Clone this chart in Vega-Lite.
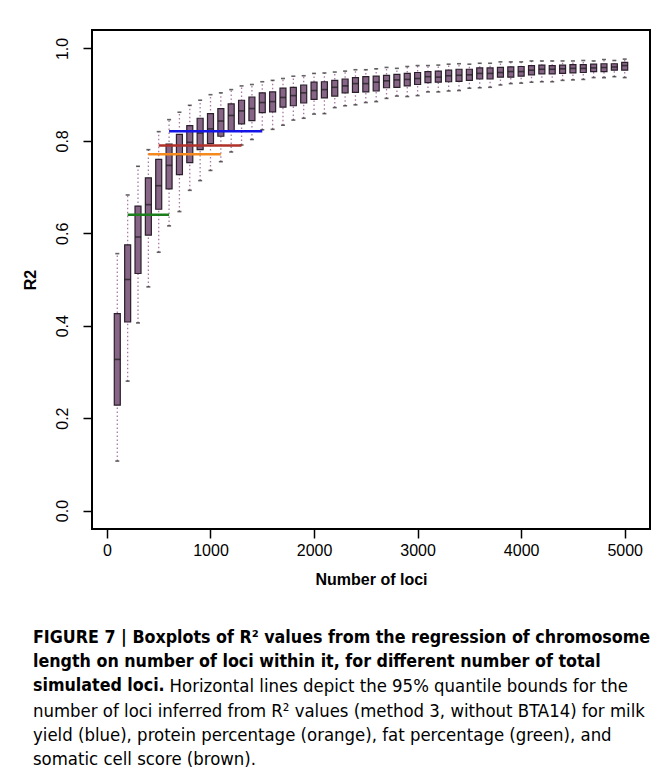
{
  "$schema": "https://vega.github.io/schema/vega-lite/v6.json",
  "autosize": {"type": "none"},
  "width": 558,
  "height": 499,
  "padding": {"left": 92, "top": 30, "right": 20, "bottom": 252},
  "background": "white",
  "title": {
    "text": ["FIGURE 7 | Boxplots of R² values from the regression of chromosome", "length on number of loci within it, for different number of total", "simulated loci."],
    "subtitle": ["\u200b\u00a0\u00a0\u00a0\u00a0\u00a0\u00a0\u00a0\u00a0\u00a0\u00a0\u00a0\u00a0\u00a0\u00a0\u00a0\u00a0\u00a0\u00a0\u00a0\u00a0\u00a0\u00a0\u00a0\u00a0\u00a0\u00a0Horizontal lines depict the 95% quantile bounds for the", "number of loci inferred from R² values (method 3, without BTA14) for milk", "yield (blue), protein percentage (orange), fat percentage (green), and", "somatic cell score (brown)."],
    "orient": "bottom",
    "anchor": "start",
    "frame": "group",
    "dx": -59,
    "offset": 42,
    "font": "DejaVu Sans Condensed, Liberation Sans Narrow, Liberation Sans",
    "fontSize": 17.7,
    "fontWeight": "bold",
    "color": "black",
    "lineHeight": 24.2,
    "subtitleFont": "DejaVu Sans Condensed, Liberation Sans Narrow, Liberation Sans",
    "subtitleFontSize": 18.4,
    "subtitleFontWeight": "normal",
    "subtitleColor": "black",
    "subtitleLineHeight": 24.2,
    "subtitlePadding": -17.7
  },
  "datasets": {
    "boxes": [
      {"n": 100, "lo": 0.107, "q1": 0.228, "med": 0.327, "q3": 0.426, "hi": 0.556},
      {"n": 200, "lo": 0.280, "q1": 0.408, "med": 0.500, "q3": 0.575, "hi": 0.683},
      {"n": 300, "lo": 0.406, "q1": 0.513, "med": 0.592, "q3": 0.659, "hi": 0.745},
      {"n": 400, "lo": 0.484, "q1": 0.596, "med": 0.662, "q3": 0.720, "hi": 0.781},
      {"n": 500, "lo": 0.559, "q1": 0.652, "med": 0.703, "q3": 0.760, "hi": 0.820},
      {"n": 600, "lo": 0.616, "q1": 0.696, "med": 0.747, "q3": 0.793, "hi": 0.846},
      {"n": 700, "lo": 0.647, "q1": 0.727, "med": 0.769, "q3": 0.814, "hi": 0.862},
      {"n": 800, "lo": 0.693, "q1": 0.753, "med": 0.797, "q3": 0.833, "hi": 0.877},
      {"n": 900, "lo": 0.714, "q1": 0.781, "med": 0.817, "q3": 0.849, "hi": 0.888},
      {"n": 1000, "lo": 0.736, "q1": 0.794, "med": 0.826, "q3": 0.859, "hi": 0.900},
      {"n": 1100, "lo": 0.755, "q1": 0.810, "med": 0.843, "q3": 0.870, "hi": 0.904},
      {"n": 1200, "lo": 0.776, "q1": 0.822, "med": 0.855, "q3": 0.880, "hi": 0.911},
      {"n": 1300, "lo": 0.791, "q1": 0.837, "med": 0.865, "q3": 0.888, "hi": 0.919},
      {"n": 1400, "lo": 0.803, "q1": 0.844, "med": 0.870, "q3": 0.895, "hi": 0.922},
      {"n": 1500, "lo": 0.824, "q1": 0.861, "med": 0.883, "q3": 0.904, "hi": 0.928},
      {"n": 1600, "lo": 0.825, "q1": 0.863, "med": 0.885, "q3": 0.906, "hi": 0.931},
      {"n": 1700, "lo": 0.834, "q1": 0.873, "med": 0.894, "q3": 0.914, "hi": 0.935},
      {"n": 1800, "lo": 0.845, "q1": 0.876, "med": 0.898, "q3": 0.916, "hi": 0.940},
      {"n": 1900, "lo": 0.849, "q1": 0.882, "med": 0.904, "q3": 0.921, "hi": 0.941},
      {"n": 2000, "lo": 0.858, "q1": 0.890, "med": 0.909, "q3": 0.927, "hi": 0.946},
      {"n": 2100, "lo": 0.859, "q1": 0.893, "med": 0.911, "q3": 0.928, "hi": 0.947},
      {"n": 2200, "lo": 0.872, "q1": 0.897, "med": 0.916, "q3": 0.931, "hi": 0.949},
      {"n": 2300, "lo": 0.876, "q1": 0.904, "med": 0.919, "q3": 0.934, "hi": 0.951},
      {"n": 2400, "lo": 0.878, "q1": 0.905, "med": 0.924, "q3": 0.937, "hi": 0.954},
      {"n": 2500, "lo": 0.883, "q1": 0.906, "med": 0.924, "q3": 0.939, "hi": 0.954},
      {"n": 2600, "lo": 0.885, "q1": 0.908, "med": 0.927, "q3": 0.940, "hi": 0.956},
      {"n": 2700, "lo": 0.892, "q1": 0.915, "med": 0.930, "q3": 0.942, "hi": 0.959},
      {"n": 2800, "lo": 0.897, "q1": 0.916, "med": 0.932, "q3": 0.944, "hi": 0.957},
      {"n": 2900, "lo": 0.896, "q1": 0.919, "med": 0.933, "q3": 0.946, "hi": 0.961},
      {"n": 3000, "lo": 0.898, "q1": 0.922, "med": 0.935, "q3": 0.948, "hi": 0.963},
      {"n": 3100, "lo": 0.906, "q1": 0.926, "med": 0.939, "q3": 0.950, "hi": 0.963},
      {"n": 3200, "lo": 0.906, "q1": 0.927, "med": 0.938, "q3": 0.951, "hi": 0.964},
      {"n": 3300, "lo": 0.908, "q1": 0.928, "med": 0.941, "q3": 0.953, "hi": 0.966},
      {"n": 3400, "lo": 0.909, "q1": 0.929, "med": 0.942, "q3": 0.955, "hi": 0.967},
      {"n": 3500, "lo": 0.914, "q1": 0.931, "med": 0.943, "q3": 0.955, "hi": 0.966},
      {"n": 3600, "lo": 0.915, "q1": 0.934, "med": 0.946, "q3": 0.958, "hi": 0.968},
      {"n": 3700, "lo": 0.916, "q1": 0.934, "med": 0.946, "q3": 0.958, "hi": 0.968},
      {"n": 3800, "lo": 0.921, "q1": 0.938, "med": 0.948, "q3": 0.959, "hi": 0.971},
      {"n": 3900, "lo": 0.924, "q1": 0.938, "med": 0.950, "q3": 0.960, "hi": 0.971},
      {"n": 4000, "lo": 0.925, "q1": 0.940, "med": 0.950, "q3": 0.961, "hi": 0.971},
      {"n": 4100, "lo": 0.927, "q1": 0.943, "med": 0.953, "q3": 0.963, "hi": 0.973},
      {"n": 4200, "lo": 0.928, "q1": 0.945, "med": 0.955, "q3": 0.964, "hi": 0.973},
      {"n": 4300, "lo": 0.928, "q1": 0.945, "med": 0.955, "q3": 0.963, "hi": 0.973},
      {"n": 4400, "lo": 0.931, "q1": 0.946, "med": 0.956, "q3": 0.964, "hi": 0.973},
      {"n": 4500, "lo": 0.932, "q1": 0.947, "med": 0.957, "q3": 0.965, "hi": 0.973},
      {"n": 4600, "lo": 0.933, "q1": 0.948, "med": 0.957, "q3": 0.965, "hi": 0.974},
      {"n": 4700, "lo": 0.937, "q1": 0.950, "med": 0.958, "q3": 0.966, "hi": 0.973},
      {"n": 4800, "lo": 0.937, "q1": 0.950, "med": 0.959, "q3": 0.967, "hi": 0.976},
      {"n": 4900, "lo": 0.939, "q1": 0.953, "med": 0.960, "q3": 0.967, "hi": 0.974},
      {"n": 5000, "lo": 0.937, "q1": 0.953, "med": 0.963, "q3": 0.970, "hi": 0.977}
    ],
    "bounds": [
      {"trait": "milk yield", "from": 600, "to": 1500, "r2": 0.821},
      {"trait": "protein percentage", "from": 400, "to": 1100, "r2": 0.771},
      {"trait": "fat percentage", "from": 200, "to": 600, "r2": 0.640},
      {"trait": "somatic cell score", "from": 500, "to": 1300, "r2": 0.790}
    ]
  },
  "layer": [
    {
      "data": {"name": "boxes"},
      "mark": {"type": "rule", "color": "#a87aa4", "strokeWidth": 1.3, "strokeDash": [1.5, 2.5]},
      "encoding": {
        "x": {"field": "n", "type": "quantitative", "scale": {"domain": [-96, 5196], "nice": false, "zero": false},
          "axis": {"values": [0, 1000, 2000, 3000, 4000, 5000], "format": "d", "title": "Number of loci"}},
        "y": {"field": "lo", "type": "quantitative", "scale": {"domain": [-0.04, 1.04], "nice": false, "zero": false},
          "axis": {"values": [0, 0.2, 0.4, 0.6, 0.8, 1.0], "format": ".1f", "title": "R2"}},
        "y2": {"field": "hi"}
      }
    },
    {
      "data": {"name": "boxes"},
      "mark": {"type": "tick", "orient": "horizontal", "color": "#222222", "size": 4, "thickness": 1.6},
      "encoding": {
        "x": {"field": "n", "type": "quantitative"},
        "y": {"field": "lo", "type": "quantitative"}
      }
    },
    {
      "data": {"name": "boxes"},
      "mark": {"type": "tick", "orient": "horizontal", "color": "#222222", "size": 4, "thickness": 1.6},
      "encoding": {
        "x": {"field": "n", "type": "quantitative"},
        "y": {"field": "hi", "type": "quantitative"}
      }
    },
    {
      "data": {"name": "boxes"},
      "mark": {"type": "bar", "orient": "vertical", "size": 6, "fill": "#866586", "stroke": "#2b1f2b", "strokeWidth": 1.2},
      "encoding": {
        "x": {"field": "n", "type": "quantitative"},
        "y": {"field": "q1", "type": "quantitative"},
        "y2": {"field": "q3"}
      }
    },
    {
      "data": {"name": "boxes"},
      "mark": {"type": "tick", "orient": "horizontal", "color": "#1a1a1a", "size": 6, "thickness": 1.6},
      "encoding": {
        "x": {"field": "n", "type": "quantitative"},
        "y": {"field": "med", "type": "quantitative"}
      }
    },
    {
      "data": {"name": "bounds"},
      "mark": {"type": "rule", "strokeWidth": 2.5},
      "encoding": {
        "x": {"field": "from", "type": "quantitative"},
        "x2": {"field": "to"},
        "y": {"field": "r2", "type": "quantitative"},
        "color": {"field": "trait", "type": "nominal", "legend": null,
          "scale": {"domain": ["milk yield", "protein percentage", "fat percentage", "somatic cell score"], "range": ["#1414e6", "#f5891e", "#1b7d1b", "#b0302a"]}}
      }
    }
  ],
  "config": {
    "view": {"stroke": "black", "strokeWidth": 2},
    "font": "Liberation Sans",
    "axis": {
      "domain": false,
      "grid": false,
      "tickColor": "black",
      "tickWidth": 1.5,
      "tickSize": 9,
      "labelFont": "Liberation Sans",
      "labelFontSize": 16,
      "labelColor": "black",
      "titleFont": "Liberation Sans",
      "titleFontSize": 16,
      "titleFontWeight": "bold",
      "titleColor": "black"
    },
    "axisX": {"labelPadding": 4, "titlePadding": 13},
    "axisY": {"labelAngle": 270, "labelPadding": 13, "titlePadding": 16}
  }
}
